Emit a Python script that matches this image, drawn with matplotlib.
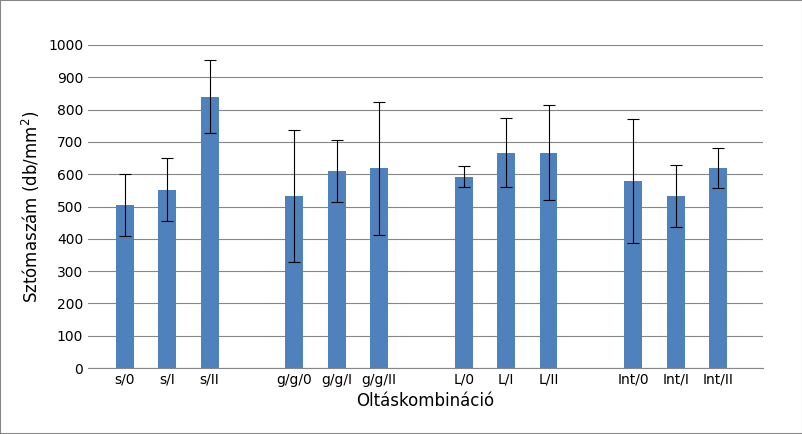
import numpy as np
import matplotlib.pyplot as plt

labels = ['s/0', 's/I', 's/II', 'g/g/0', 'g/g/I', 'g/g/II',
          'L/0', 'L/I', 'L/II', 'Int/0', 'Int/I', 'Int/II']
values = [505, 552, 840, 533, 610, 618, 592, 667, 667, 580, 533, 618]
errors = [95, 98, 113, 205, 95, 205, 33, 107, 148, 192, 95, 62]
slots = [0, 1, 2, 4, 5, 6, 8, 9, 10, 12, 13, 14]

fig = plt.figure(figsize=(8.03, 4.34), dpi=100)
ax = fig.add_axes([88/803, 1-368/434, (763-88)/803, (368-45)/434])

ax.bar(slots, values, width=0.42, color='#4F81BD', zorder=3,
       yerr=errors, error_kw=dict(ecolor='black', elinewidth=0.8, capsize=4, capthick=0.8))
ax.set_xlim(-0.87, 15.06)
ax.set_ylim(0, 1000)
ax.set_yticks(range(0, 1001, 100))
ax.set_xticks(slots)
ax.set_xticklabels(labels)
ax.tick_params(length=0, labelsize=10)
ax.grid(axis='y', color='#868686', linewidth=0.8, zorder=0)
for s in ['top', 'right', 'left']:
    ax.spines[s].set_visible(False)
ax.spines['bottom'].set_color('#868686')
ax.set_ylabel('Sztómaszám (db/mm$^2$)', fontsize=12)
ax.set_xlabel('Oltáskombináció', fontsize=12)

fig.patches.append(plt.Rectangle((0, 0), 1, 1, transform=fig.transFigure,
                                 fill=False, edgecolor='#868686', linewidth=1.5))
fig.savefig('out.png', dpi=100)
